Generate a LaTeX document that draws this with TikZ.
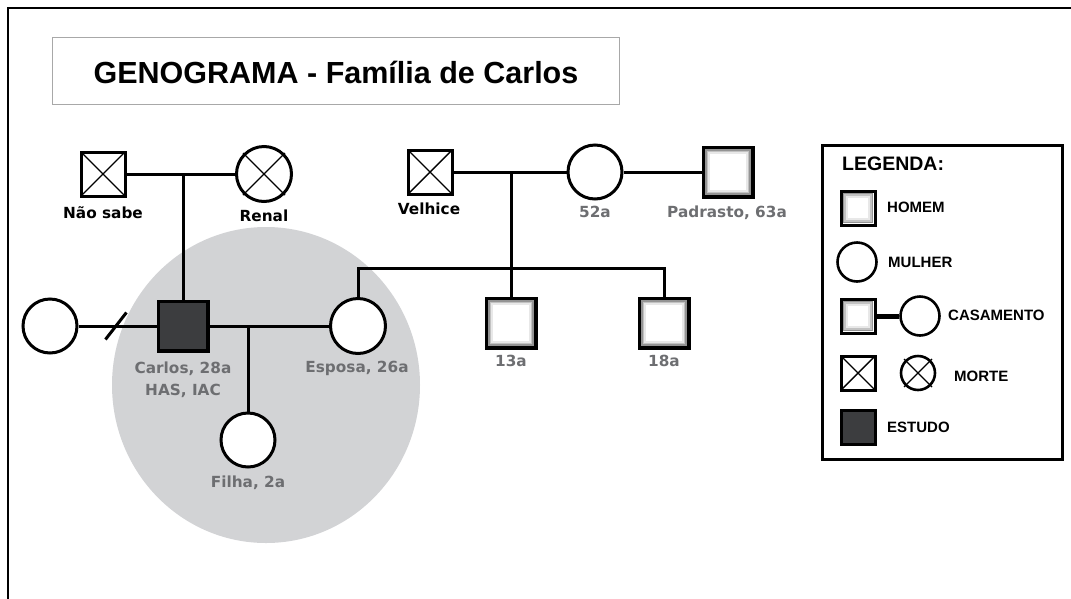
\documentclass[tikz,border=0pt]{standalone}
\usepackage{fontspec}
\setmainfont{Liberation Sans}
\newfontfamily\labfont{DejaVu Sans}
\definecolor{labgray}{HTML}{6D6E71}
\definecolor{studyfill}{HTML}{3C3D3F}
\definecolor{focus}{HTML}{D2D3D5}
\definecolor{titleframe}{HTML}{A8A8A8}
\tikzset{
  gradsq/.style={path picture={
    \foreach \d/\c in {2.6/42,4.2/24,5.8/9}{
      \draw[line width=1.7pt, black!\c]
        ([xshift=\d pt,yshift=\d pt]path picture bounding box.south west) rectangle
        ([xshift=-\d pt,yshift=-\d pt]path picture bounding box.north east);
    }}},
  crossed/.style={path picture={
    \draw[line width=1.4pt]
      (path picture bounding box.south west) -- (path picture bounding box.north east)
      (path picture bounding box.north west) -- (path picture bounding box.south east);}},
  male/.style={rectangle, draw, fill=white, line width=3.5pt, minimum size=49.5pt, inner sep=0pt, gradsq},
  deadmale/.style={male, line width=3pt, minimum size=44pt, crossed},
  female/.style={circle, draw, fill=white, line width=3pt, minimum size=55pt, inner sep=0pt},
  studybox/.style={rectangle, draw, fill=studyfill, line width=3.5pt, minimum size=49.5pt, inner sep=0pt},
  link/.style={line width=3pt},
  lab/.style={font=\labfont\bfseries\fontsize{15.3}{18}\selectfont, text=labgray, anchor=base, inner sep=0pt},
  labk/.style={lab, text=black},
  legsq/.style={minimum size=34pt, line width=3pt},
  legcirc/.style={minimum size=39pt, line width=2.6pt},
  legtxt/.style={font=\bfseries\fontsize{15}{18}\selectfont, anchor=base west, inner sep=0pt},
}
\begin{document}
\begin{tikzpicture}[x=1pt,y=-1pt,line join=miter]
\useasboundingbox (0,0) rectangle (1071,598);
% focus area
\fill[focus] (266,385) ellipse[x radius=154pt, y radius=158pt];
% frame
\draw[line width=2.2pt] (8,605) -- (8,8) -- (1080,8);
% title
\node[draw=titleframe, line width=0.9pt, minimum width=567pt, minimum height=67pt, inner sep=0pt] (titlebox) at (336,71) {};
\node[font=\bfseries\fontsize{30.5}{36}\selectfont, anchor=base, inner sep=0pt] (title) at (336,83) {GENOGRAMA - Família de Carlos};

% persons
\node[deadmale] (naosabe) at (103,174) {};
\node[female] (renal) at (264,174) {};
\node[deadmale] (velhice) at (430,172) {};
\node[female, minimum size=54pt] (mae) at (595,172) {};
\node[male] (padrasto) at (728,172) {};
\node[male] (irmao13) at (511,323) {};
\node[male] (irmao18) at (664,323) {};
\node[studybox] (carlos) at (183,326) {};
\node[female, minimum size=54pt] (ex) at (50,326) {};
\node[female] (esposa) at (358,326) {};
\node[female, minimum size=54pt] (filha) at (248,440) {};

% death crosses on circle
\draw[line width=1.4pt] ([shift={(-21,-21)}]renal.center) -- ([shift={(21,21)}]renal.center)
  ([shift={(-21,21)}]renal.center) -- ([shift={(21,-21)}]renal.center);

% connectors
\draw[link] (naosabe.east) -- (renal.west);
\draw[link] (naosabe.east -| carlos.north) -- (carlos.north);
\draw[link] (velhice.east) -- (mae.west);
\draw[link] (mae.east) -- (padrasto.west);
\draw[link] (velhice.east -| irmao13.north) -- (irmao13.north);
\coordinate (sib) at (0,268);
\draw[link] (esposa.north) |- (sib -| irmao18.north) -- (irmao18.north);
\draw[link] (carlos.east) -- (esposa.west);
\draw[link] (carlos.east -| filha.north) -- (filha.north);
\draw[link] (ex.east) -- (carlos.west) coordinate[pos=0.48] (div);
\draw[link] ([shift={(-10.5,13.5)}]div) -- ([shift={(10.5,-13.5)}]div);

% labels
\node[labk] (t-naosabe) at (103,218) {Não sabe};
\node[labk] (t-renal) at (264,221) {Renal};
\node[labk] (t-velhice) at (429,214) {Velhice};
\node[lab] (t-mae) at (595,217) {52a};
\node[lab] (t-padrasto) at (727,217) {Padrasto, 63a};
\node[lab] (t-13) at (511,366) {13a};
\node[lab] (t-18) at (664,366) {18a};
\node[lab] (t-carlos) at (183,373) {Carlos, 28a};
\node[lab] (t-carlos2) at (183,395) {HAS, IAC};
\node[lab] (t-esposa) at (357,372) {Esposa, 26a};
\node[lab] (t-filha) at (248,487) {Filha, 2a};

% legend
\node[draw, line width=2.5pt, minimum width=240pt, minimum height=314pt, inner sep=0pt] (legend) at (942.5,302.5) {};
\node[font=\bfseries\fontsize{19.5}{22}\selectfont, anchor=base west, inner sep=0pt] (legtitle) at (842,170) {LEGENDA:};
\node[male, legsq] (lh) at (858,208) {};
\node[legtxt] (lht) at (887,212) {HOMEM};
\node[female, legcirc] (lm) at (857,262) {};
\node[legtxt] (lmt) at (888,267) {MULHER};
\node[male, legsq] (lc1) at (858,316) {};
\node[female, legcirc] (lc2) at (920,316) {};
\draw[line width=5pt] (lc1.east) -- (lc2.west);
\node[legtxt] (lct) at (948,320) {CASAMENTO};
\node[deadmale, legsq] (lx1) at (858,373) {};
\node[female, minimum size=34pt, line width=2.6pt] (lx2) at (918,373) {};
\draw[line width=1.3pt] ([shift={(-14,-14)}]lx2.center) -- ([shift={(14,14)}]lx2.center)
  ([shift={(-14,14)}]lx2.center) -- ([shift={(14,-14)}]lx2.center);
\node[legtxt] (lxt) at (954,381) {MORTE};
\node[studybox, legsq] (le) at (858,427) {};
\node[legtxt] (let) at (887,432) {ESTUDO};
\end{tikzpicture}
\end{document}
